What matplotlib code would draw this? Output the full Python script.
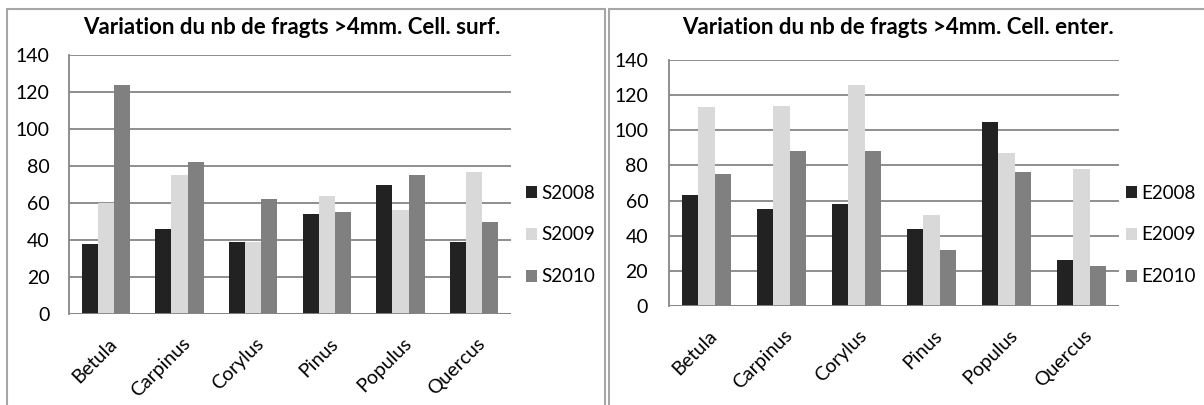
import matplotlib
matplotlib.use("Agg")
import matplotlib.pyplot as plt
from matplotlib.patches import Rectangle
from matplotlib.transforms import ScaledTranslation
import numpy as np

plt.rcParams["font.family"] = ["Lato", "DejaVu Sans"]

species = ["Betula", "Carpinus", "Corylus", "Pinus", "Populus", "Quercus"]

surf_labels = ["S2008", "S2009", "S2010"]
s2008 = [38, 46, 39, 54, 70, 39]
s2009 = [60, 75, 39, 64, 56, 77]
s2010 = [124, 82, 62, 55, 75, 50]

enter_labels = ["E2008", "E2009", "E2010"]
e2008 = [63, 55, 58, 44, 105, 26]
e2009 = [113, 114, 126, 52, 87, 78]
e2010 = [75, 88, 88, 32, 76, 23]

colors = ["#222222", "#d9d9d9", "#808080"]
grid_c = "#868686"

W, H = 1204, 405
fig = plt.figure(figsize=(W / 100, H / 100), dpi=100)


def px_axes(x0, y0, x1, y1):
    return fig.add_axes([x0 / W, 1 - y1 / H, (x1 - x0) / W, (y1 - y0) / H])


def draw_panel(ax, series, labels, title, title_x, legend_x, ypad):
    x = np.arange(len(species))
    bw = 0.22
    handles = []
    for i, (vals, lab) in enumerate(zip(series, labels)):
        b = ax.bar(x + (i - 1) * bw, vals, bw, color=colors[i], label=lab, zorder=3)
        handles.append(b)
    ax.set_xlim(-0.5, len(species) - 0.5)
    ax.set_ylim(0, 140)
    ax.set_yticks(range(0, 141, 20))
    ax.yaxis.grid(True, color=grid_c, linewidth=1.3, zorder=0)
    ax.set_axisbelow(True)
    for s in ["top", "right", "bottom"]:
        ax.spines[s].set_visible(False)
    ax.spines["left"].set_color(grid_c)
    ax.spines["left"].set_linewidth(1.3)
    ax.axhline(0, color=grid_c, linewidth=1.3, zorder=4)
    ax.tick_params(axis="y", length=0, pad=ypad, labelsize=14, colors="black")
    ax.tick_params(axis="x", length=0, pad=15, labelsize=14)
    ax.set_xticks(x)
    ax.set_xticklabels(species, rotation=45, ha="right", va="top",
                       rotation_mode="anchor")
    shift = ScaledTranslation(2 / 100, 0, fig.dpi_scale_trans)
    for lab in ax.get_xticklabels():
        lab.set_transform(lab.get_transform() + shift)
    fig.text(title_x / W, 1 - 28 / H, title, ha="center", va="center",
             fontsize=16, fontweight="bold")
    fig.legend(handles=handles, labels=labels, loc="center left",
               bbox_to_anchor=(legend_x / W, 1 - 235 / H), frameon=False,
               fontsize=13.5, handlelength=0.6, handleheight=0.6,
               handletextpad=0.2, labelspacing=1.32, borderpad=0,
               borderaxespad=0)


ax1 = px_axes(69, 55, 511, 314)
draw_panel(ax1, [s2008, s2009, s2010], surf_labels,
           "Variation du nb de fragts >4mm. Cell. surf.", 292, 526, 14)

ax2 = px_axes(669, 60, 1119, 306)
draw_panel(ax2, [e2008, e2009, e2010], enter_labels,
           "Variation du nb de fragts >4mm. Cell. enter.", 898, 1126, 15)

# panel frames
frame_c = "#a6a6a6"
fig.patches.append(Rectangle((7 / W, -0.05), (605 - 7) / W, 1.05 - 9 / H,
                             transform=fig.transFigure, fill=False,
                             edgecolor=frame_c, linewidth=1.5))
fig.patches.append(Rectangle((609 / W, -0.05), (1210 - 609) / W, 1.05 - 9 / H,
                             transform=fig.transFigure, fill=False,
                             edgecolor=frame_c, linewidth=1.5))

fig.savefig("out.png", dpi=100)
